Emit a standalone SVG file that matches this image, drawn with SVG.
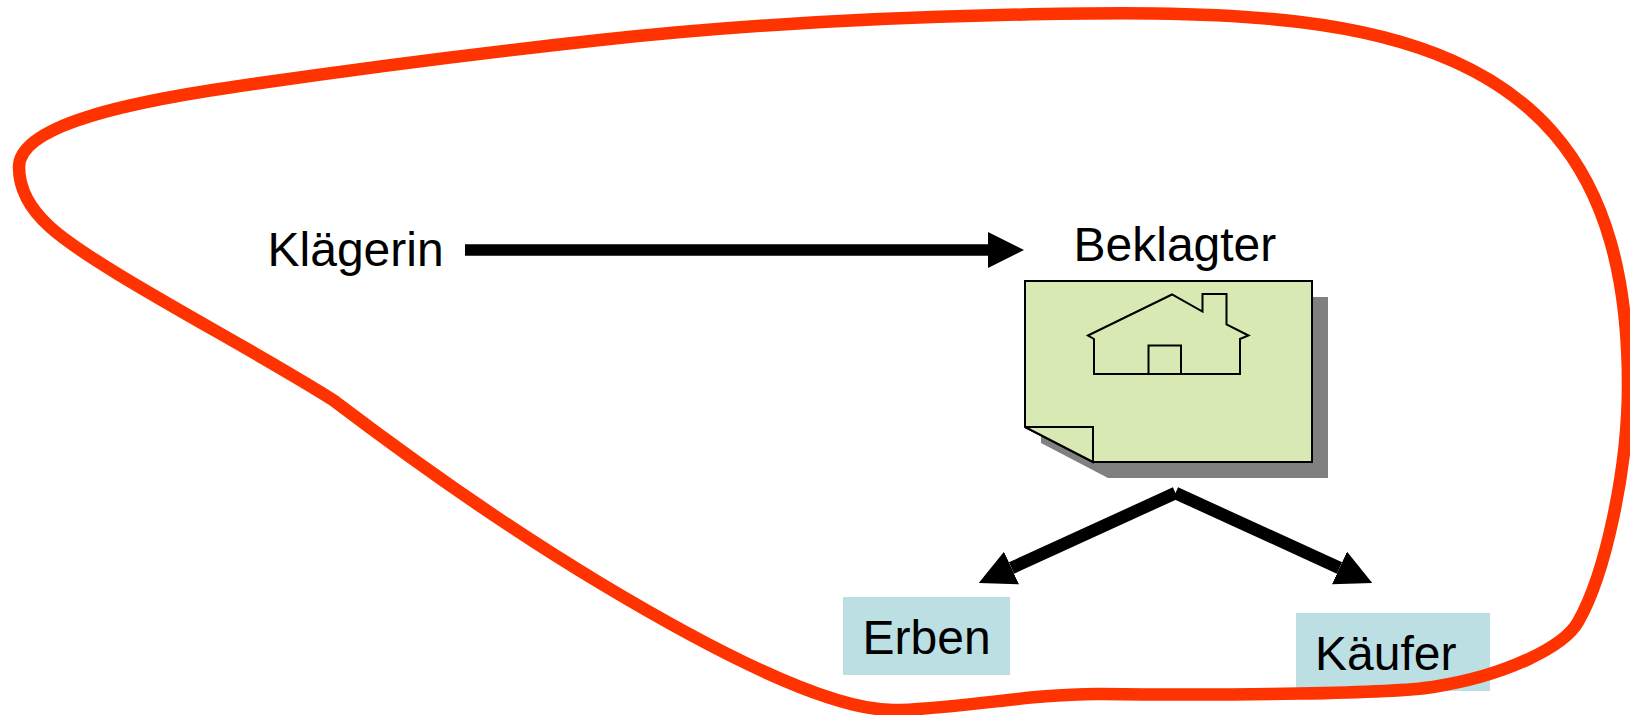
<svg xmlns="http://www.w3.org/2000/svg" width="1630" height="715" viewBox="0 0 1630 715">
<style>
text{font-family:"Liberation Sans",Arial,sans-serif;font-size:48px;fill:#000}
.box{fill:#bbdfe2}
.o{fill:#d9e9b4;stroke:#000;stroke-width:2;stroke-linejoin:miter}
.arrow{fill:none;stroke:#000;stroke-width:12.500;marker-end:url(#head)}
</style>
<defs>
<marker id="head" markerUnits="userSpaceOnUse" markerWidth="37" markerHeight="37" refX="0" refY="18" orient="auto"><path d="M0,0L36,18L0,36Z" fill="#000"/></marker>
</defs>
<rect width="1630" height="715" fill="#fff"/>
<g id="klaegerin"><text x="267.500" y="266">Klägerin</text></g>
<g id="beklagter">
<text x="1073.500" y="261">Beklagter</text>
<path d="M1041,297H1328V478H1108L1041,443Z" fill="#808080"/>
<path class="o" d="M1025,281H1312V462H1093L1025,427Z"/>
<path class="o" d="M1025,427H1093V462Z"/>
<path class="o" d="M1088,335.500L1172,294.500L1202.500,311.500V294H1226.500V324.500L1248.500,335.500L1240,339V374H1094V339Z"/>
<rect class="o" x="1148.500" y="345.500" width="32.500" height="28.500"/>
</g>
<g id="connectors">
<path class="arrow" style="stroke-width:11.500" d="M465,250H988"/>
<path class="arrow" d="M1175.500,493L1011.500,568"/>
<path class="arrow" d="M1175.500,493L1339.500,568"/>
</g>
<g id="erben"><rect class="box" x="843" y="597" width="167" height="78"/><text x="862.500" y="654">Erben</text></g>
<g id="kaeufer"><rect class="box" x="1296" y="613" width="194" height="78"/><text x="1315" y="670">Käufer</text></g>
<g id="boundary"><path fill="none" stroke="#ff3300" stroke-width="12.500" stroke-linejoin="round" d="M19,167C19,125 130,102 233,87C355,69 480,53 600,40C733,25.600 867,18 1000,15C1100,12.700 1210,11 1300,22C1540,51 1628,170 1628,385C1628,470 1605,575 1578,622C1565,645 1510,675 1433,687C1390,693.700 1230,695.500 1100,694C1030,693.500 950,710 893,710C830,710 720,655 600,583C510,529 420,466 333,400C250,347 95,268 50,227C30,209 19,190 19,167Z"/></g>
</svg>
